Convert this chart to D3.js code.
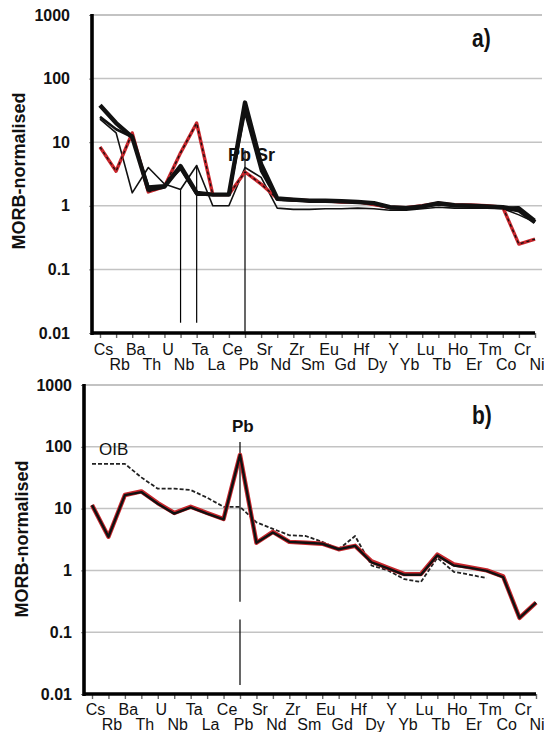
<!DOCTYPE html>
<html>
<head>
<meta charset="utf-8">
<script src="https://cdn.jsdelivr.net/npm/d3@7"></script>
<style>
  body { margin: 0; background: #fff; }
  svg { display: block; font-family: Arial, "Liberation Sans", sans-serif; }
</style>
</head>
<body>
<svg id="chart" width="544" height="732"></svg>
<script>
// element order on the spider diagram
const elements = ["Cs","Rb","Ba","Th","U","Nb","Ta","La","Ce","Pb","Sr","Nd","Zr","Sm",
                  "Eu","Gd","Hf","Dy","Y","Yb","Lu","Tb","Ho","Er","Tm","Co","Cr","Ni"];
const yTicks = [0.01, 0.1, 1, 10, 100, 1000];

// panel a) samples
const redA =   [8.4, 3.5, 14, 1.65, 2.0, 6.8, 20, 1.5, 1.5, 3.4, 2.2, 1.3, 1.25, 1.2,
                1.2, 1.15, 1.15, 1.05, 0.95, 0.93, 1.0, 1.1, 1.03, 1.03, 1.0, 0.95, 0.25, 0.3];
const thickA = [38, 20, 12, 1.8, 2.0, 4.2, 1.6, 1.5, 1.5, 42, 4.5, 1.3, 1.25, 1.2,
                1.2, 1.18, 1.15, 1.1, 0.95, 0.92, 0.98, 1.1, 1.02, 1.0, 0.98, 0.95, 0.85, 0.55];
const midA =   [25, 16, 12, 2.0, 2.1, 3.8, 1.5, 1.5, 1.5, 30, 3.5, 1.25, 1.2, 1.2,
                1.18, 1.15, 1.15, 1.05, 0.92, 0.9, 0.95, 1.05, 1.0, 1.0, 0.97, 0.93, 0.95, 0.6];
const thinA =  [23, 14, 1.6, 4.0, 2.2, 1.8, 4.3, 1.0, 1.0, 4.0, 2.8, 0.92, 0.88, 0.88,
                0.9, 0.9, 0.92, 0.9, 0.85, 0.85, 0.9, 0.95, 0.92, 0.92, 0.92, 0.9, 0.72, 0.55];
// vertical marker lines in a): [element, from, to]
const markA = [["Nb", 1.8, 0.0145], ["Ta", 4.3, 0.0145], ["Pb", 7.5, 0.0105]];

// panel b) sample and OIB reference
const redB =   [11.4, 3.5, 16.6, 19, 12.3, 8.5, 10.7, 8.5, 6.8, 74, 2.8, 4.2, 2.9, 2.8,
                2.7, 2.2, 2.5, 1.4, 1.1, 0.87, 0.87, 1.8, 1.25, 1.12, 1.0, 0.8, 0.17, 0.3];
const blackB = [11.4, 3.5, 16.5, 18.5, 12.0, 8.3, 10.5, 8.3, 6.7, 74, 2.8, 4.1, 2.9, 2.8,
                2.7, 2.2, 2.5, 1.35, 1.08, 0.85, 0.85, 1.75, 1.2, 1.1, 0.98, 0.78, 0.17, 0.3];
const oibB =   [53, 53, 53, 32, 21, 21, 20, 15, 10.7, 10.7, 6.0, 4.7, 3.7, 3.6,
                2.9, 2.2, 3.6, 1.2, 1.0, 0.72, 0.65, 1.6, 0.95, 0.85, 0.75, null, null, null];
// broken Pb marker in b)
const markB = [["Pb", 120, 0.31], ["Pb", 0.16, 0.014]];

const panels = [
  {
    tag: "a)", top: 15, bottom: 333, axisX: 92, x0: 100, x1: 535, gridRight: 542,
    tickPad: 19, tagX: 472, tagY: 47, ylabX: 25, ylabY: 171, rowY: [355, 370],
    series: [
      {v: thinA, color: "#111", width: 1.6},
      {v: midA, color: "#111", width: 2.6},
      {v: redA, color: "#c8262c", width: 3.4},
      {v: redA, color: "#111", width: 1.3, dash: "3,3"},
      {v: thickA, color: "#111", width: 4.4}
    ],
    marks: markA,
    notes: [{text: "Pb Sr", x: 228, y: 161, size: 18, weight: "bold"}]
  },
  {
    tag: "b)", top: 385, bottom: 694, axisX: 84, x0: 92, x1: 536, gridRight: 543,
    tickPad: 9, tagX: 472, tagY: 424, ylabX: 28, ylabY: 539, rowY: [715, 730],
    series: [
      {v: oibB, color: "#222", width: 1.8, dash: "4,2"},
      {v: redB, color: "#c8262c", width: 4.4},
      {v: blackB, color: "#111", width: 2.4}
    ],
    marks: markB,
    notes: [
      {text: "Pb", x: 232, y: 432, size: 17, weight: "bold"},
      {text: "OIB", x: 99, y: 455, size: 17, weight: "normal"}
    ]
  }
];

const svg = d3.select("#chart");

panels.forEach(p => {
  const g = svg.append("g");

  const x = d3.scalePoint().domain(elements).range([p.x0, p.x1]);
  const y = d3.scaleLog().domain([0.01, 1000]).range([p.bottom, p.top]);

  // gridlines
  g.append("g")
    .selectAll("line")
    .data(yTicks.slice(1))
    .join("line")
      .attr("x1", p.axisX).attr("x2", p.gridRight)
      .attr("y1", d => y(d)).attr("y2", d => y(d))
      .attr("stroke", "#c3c3c3")
      .attr("stroke-width", d => d === 1000 ? 2 : 1.5);

  // y axis
  const yAxis = g.append("g")
    .attr("transform", `translate(${p.axisX},0)`)
    .call(d3.axisLeft(y).tickValues(yTicks).tickFormat(d => String(d))
      .tickSize(3).tickPadding(p.tickPad));
  yAxis.select(".domain").remove();
  yAxis.selectAll(".tick line").attr("stroke", "#888");
  yAxis.selectAll(".tick text")
    .attr("fill", "#111")
    .style("font-size", "16px")
    .style("font-weight", "bold")
    .style("font-family", "Arial, 'Liberation Sans', sans-serif");

  // x axis
  const xAxis = g.append("g")
    .attr("transform", `translate(0,${p.bottom})`)
    .call(d3.axisBottom(x).tickSize(5).tickPadding(0));
  xAxis.select(".domain").remove();
  xAxis.selectAll(".tick line").attr("stroke", "#666").attr("stroke-width", 1.4);
  const last = elements.length - 1;
  xAxis.selectAll(".tick text")
    .attr("fill", "#111")
    .attr("x", (d, i) => i === last ? 544 - x(d) : 3)
    .attr("text-anchor", (d, i) => i === last ? "end" : "middle")
    .attr("dy", null)
    .attr("y", (d, i) => p.rowY[i % 2] - p.bottom)
    .style("font-size", "16px")
    .style("font-family", "Arial, 'Liberation Sans', sans-serif");

  // thick frame lines (left and bottom)
  g.append("line")
    .attr("x1", p.axisX).attr("x2", p.axisX)
    .attr("y1", p.top - 1).attr("y2", p.bottom + 2)
    .attr("stroke", "#000").attr("stroke-width", 3.6);
  g.append("line")
    .attr("x1", p.axisX).attr("x2", p.x1)
    .attr("y1", p.bottom).attr("y2", p.bottom)
    .attr("stroke", "#000").attr("stroke-width", 3.6);

  // vertical marker lines
  g.append("g")
    .selectAll("line")
    .data(p.marks)
    .join("line")
      .attr("x1", d => x(d[0])).attr("x2", d => x(d[0]))
      .attr("y1", d => y(d[1])).attr("y2", d => y(d[2]))
      .attr("stroke", "#000").attr("stroke-width", 1.2);

  // data lines
  const line = d3.line()
    .defined(d => d != null)
    .x((d, i) => x(elements[i]))
    .y(d => y(d));

  p.series.forEach(s => {
    g.append("path")
      .attr("d", line(s.v))
      .attr("fill", "none")
      .attr("stroke", s.color)
      .attr("stroke-width", s.width)
      .attr("stroke-linejoin", "round")
      .attr("stroke-dasharray", s.dash || null);
  });

  // annotations
  p.notes.forEach(n => {
    g.append("text")
      .attr("x", n.x).attr("y", n.y)
      .attr("fill", "#111")
      .style("font-size", n.size + "px")
      .style("font-weight", n.weight)
      .text(n.text);
  });

  // panel tag
  g.append("text")
    .attr("transform", `translate(${p.tagX},${p.tagY}) scale(1,1.25)`)
    .attr("fill", "#111")
    .style("font-size", "21px")
    .style("font-weight", "bold")
    .text(p.tag);

  // y title
  g.append("text")
    .attr("transform", `translate(${p.ylabX},${p.ylabY}) rotate(-90)`)
    .attr("text-anchor", "middle")
    .attr("fill", "#111")
    .style("font-size", "18px")
    .style("font-weight", "bold")
    .text("MORB-normalised");
});
</script>
</body>
</html>
